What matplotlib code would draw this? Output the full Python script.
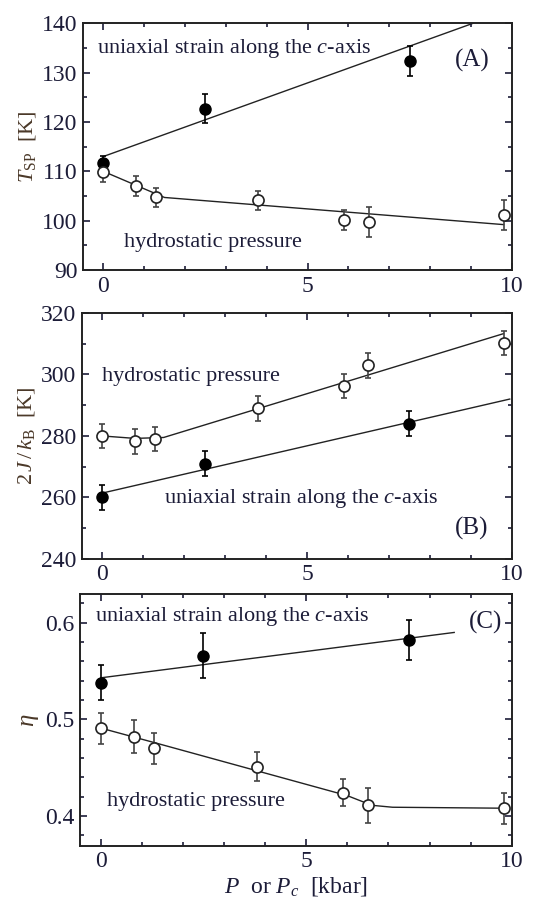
import matplotlib
matplotlib.use('Agg')
import matplotlib.pyplot as plt
from matplotlib.ticker import MultipleLocator

plt.rcParams['font.family'] = ['Liberation Serif', 'DejaVu Serif']
plt.rcParams['mathtext.fontset'] = 'custom'
plt.rcParams['mathtext.rm'] = 'Liberation Serif'
plt.rcParams['mathtext.it'] = 'Liberation Serif:italic'

# pressure positions
p_uni = [0, 2.5, 7.5]
p_hyd = [0, 0.8, 1.3, 3.8, 5.9, 6.5, 9.8]

# (A) T_SP
tsp_uni = [111.7, 122.7, 132.4]
tsp_uni_err = [1.5, 3.0, 3.0]
tsp_hyd = [109.9, 107.0, 104.7, 104.1, 100.2, 99.7, 101.1]
tsp_hyd_err = [2.0, 2.0, 2.0, 2.0, 2.0, 3.0, 3.0]
tsp_uni_fit_x = [0, 9.05]
tsp_uni_fit_y = [113.0, 140.0]
tsp_hyd_fit_x = [0, 1.5, 9.8]
tsp_hyd_fit_y = [110.0, 104.7, 99.2]

# (B) 2J/kB
j_uni = [260.0, 271.0, 284.0]
j_uni_err = [4, 4, 4]
j_hyd = [280.0, 278.2, 279.0, 289.0, 296.3, 303.0, 310.2]
j_hyd_err = [4, 4, 4, 4, 4, 4, 4]
j_uni_fit_x = [0, 9.95]
j_uni_fit_y = [261.4, 292.0]
j_hyd_fit_x = [0, 0.8, 1.5, 9.8]
j_hyd_fit_y = [280.0, 279.2, 279.5, 313.3]

# (C) eta
eta_uni = [0.538, 0.566, 0.582]
eta_uni_err = [0.018, 0.023, 0.021]
eta_hyd = [0.491, 0.482, 0.470, 0.451, 0.424, 0.411, 0.408]
eta_hyd_err = [0.016, 0.017, 0.016, 0.015, 0.014, 0.018, 0.016]
eta_uni_fit_x = [0, 8.6]
eta_uni_fit_y = [0.543, 0.590]
eta_hyd_fit_x = [0, 1.3, 6.0, 6.6, 7.1, 9.8]
eta_hyd_fit_y = [0.491, 0.476, 0.421, 0.411, 0.409, 0.408]

txt_col = '#1c1c38'
lab_col = '#4a3828'
ann = dict(fontsize=16, color=txt_col, va='center')

fig = plt.figure(figsize=(5.45, 8.97), dpi=100)
ax_a = fig.add_axes([0.152, 0.699, 0.787, 0.275])
ax_b = fig.add_axes([0.150, 0.377, 0.789, 0.274])
ax_c = fig.add_axes([0.147, 0.057, 0.792, 0.281])


def draw(ax, yu, yue, yh, yhe, fu, fh):
    ax.plot(fu[0], fu[1], color='#222222', lw=1.0, zorder=1)
    ax.plot(fh[0], fh[1], color='#222222', lw=1.0, zorder=1)
    ax.errorbar(p_uni, yu, yerr=yue, fmt='o', color='black', ms=8,
                mfc='black', mec='black', ecolor='black', elinewidth=1.2,
                capsize=2.5, capthick=1.2, zorder=3)
    ax.errorbar(p_hyd, yh, yerr=yhe, fmt='o', color='black', ms=8,
                mfc='white', mec='#222222', mew=1.2, ecolor='#444444',
                elinewidth=1.2, capsize=2.5, capthick=1.2, zorder=3)
    ax.set_xlim(-0.5, 10)
    ax.xaxis.set_major_locator(MultipleLocator(5))
    ax.xaxis.set_minor_locator(MultipleLocator(1))
    ax.tick_params(which='both', direction='in', top=True, right=True,
                   labelsize=17, colors=txt_col, width=1.2)
    ax.tick_params(which='major', length=5, pad=4)
    ax.tick_params(which='minor', length=3)
    for s in ax.spines.values():
        s.set_linewidth(1.4)
        s.set_color('#222222')


draw(ax_a, tsp_uni, tsp_uni_err, tsp_hyd, tsp_hyd_err,
     (tsp_uni_fit_x, tsp_uni_fit_y), (tsp_hyd_fit_x, tsp_hyd_fit_y))
ax_a.set_ylim(90, 140)
ax_a.yaxis.set_major_locator(MultipleLocator(10))
ax_a.yaxis.set_minor_locator(MultipleLocator(5))
ax_a.set_ylabel(r'$T_{\rm SP}$  [K]', fontsize=16, color=lab_col, labelpad=3)
ax_a.text(-0.15, 134.9, r'uniaxial strain along the $c$-axis', **ann)
ax_a.text(0.5, 95.5, 'hydrostatic pressure', **ann)
ax_a.text(8.6, 132.5, '(A)', fontsize=18, color=txt_col, va='center')

draw(ax_b, j_uni, j_uni_err, j_hyd, j_hyd_err,
     (j_uni_fit_x, j_uni_fit_y), (j_hyd_fit_x, j_hyd_fit_y))
ax_b.set_ylim(240, 320)
ax_b.yaxis.set_major_locator(MultipleLocator(20))
ax_b.yaxis.set_minor_locator(MultipleLocator(10))
ax_b.set_ylabel(r'$2\,J\,/\,k_{\rm B}$  [K]', fontsize=16, color=lab_col, labelpad=3)
ax_b.text(0.0, 299.5, 'hydrostatic pressure', **ann)
ax_b.text(1.5, 259.5, r'uniaxial strain along the $c$-axis', **ann)
ax_b.text(8.6, 250.0, '(B)', fontsize=18, color=txt_col, va='center')

draw(ax_c, eta_uni, eta_uni_err, eta_hyd, eta_hyd_err,
     (eta_uni_fit_x, eta_uni_fit_y), (eta_hyd_fit_x, eta_hyd_fit_y))
ax_c.set_ylim(0.369, 0.63)
ax_c.yaxis.set_major_locator(MultipleLocator(0.1))
ax_c.yaxis.set_minor_locator(MultipleLocator(0.02))
ax_c.set_ylabel(r'$\eta$', fontsize=18, color=lab_col, labelpad=3)
ax_c.set_xlabel(r'$P$  or $P_c$  [kbar]', fontsize=17, color=txt_col, labelpad=2)
ax_c.text(-0.13, 0.606, r'uniaxial strain along the $c$-axis', **ann)
ax_c.text(0.16, 0.4145, 'hydrostatic pressure', **ann)
ax_c.text(8.95, 0.600, '(C)', fontsize=18, color=txt_col, va='center')

fig.savefig('out.png', dpi=100)
